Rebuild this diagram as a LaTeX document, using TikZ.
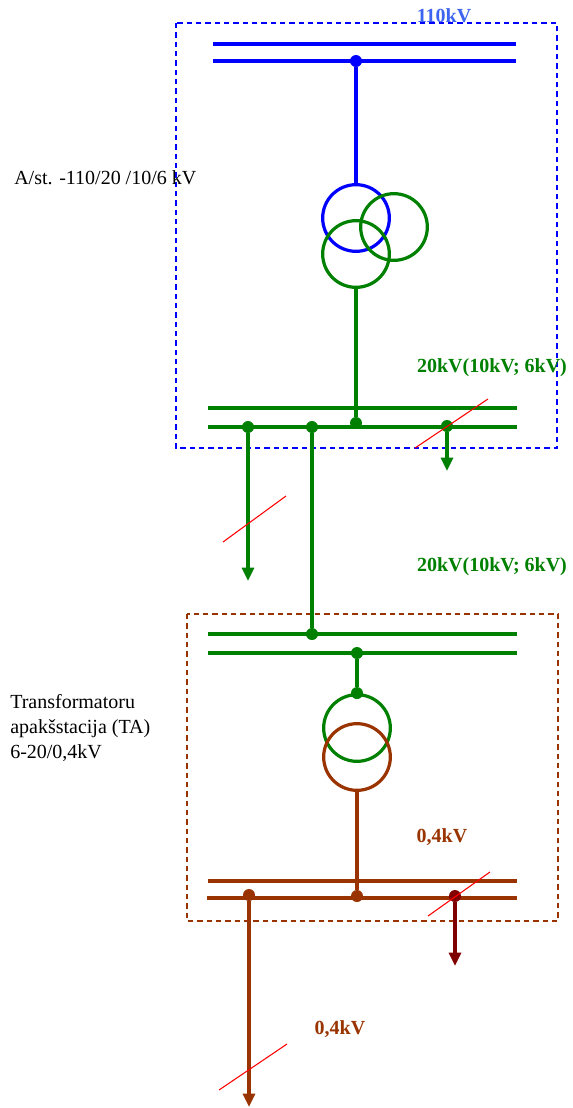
\documentclass[tikz,border=0pt]{standalone}
\usepackage{fontspec}
\setmainfont{Liberation Serif}
\usetikzlibrary{arrows.meta}

\definecolor{hv}{RGB}{0,0,255}
\definecolor{hvtext}{RGB}{60,100,240}
\definecolor{mv}{RGB}{0,128,0}
\definecolor{lv}{RGB}{153,51,0}
\definecolor{lvdark}{RGB}{128,0,0}

\begin{document}
\begin{tikzpicture}[
    x=0.75pt, y=-0.75pt,
    bus/.style={line width=2.6pt},
    wire/.style={line width=2.3pt},
    dot/.style={circle, fill, inner sep=0, minimum size=9pt},
    wind/.style={circle, draw, line width=2.4pt, inner sep=0, minimum size=50pt},
    feed/.style={wire, -{Triangle[length=10pt, width=9pt]}},
    slash/.style={red, line width=0.8pt},
    frame/.style={line width=0.9pt, dash pattern=on 4pt off 3pt},
    lbl/.style={font=\fontsize{15}{18}\selectfont\bfseries},
    txt/.style={font=\fontsize{15}{18.75}\selectfont, align=left, anchor=west, inner sep=0},
  ]
  \useasboundingbox (0,0) rectangle (573,1108);

  % substation frames
  \draw[hv, frame] (176,23) rectangle (557,448);
  \draw[lv, frame] (187,614) rectangle (558,921);

  % 110kV bus
  \draw[hv, bus] (213,44) -- (516,44);
  \draw[hv, bus] (213,61) -- (516,61);
  \node[dot, hv] (hd) at (356,61) {};

  % three winding transformer
  \node[wind, hv] (tH) at (356,218) {};
  \node[wind, mv] (tM1) at (394,227) {};
  \node[wind, mv] (tM2) at (356,254) {};
  \draw[hv, wire] (hd) -- (tH.north);

  % 20kV bus of the substation
  \draw[mv, bus] (208,408) -- (517,408);
  \draw[mv, bus] (208,427) -- (517,427);
  \node[dot, mv] (md1) at (248,427) {};
  \node[dot, mv] (md2) at (312,427) {};
  \node[dot, mv] (md3) at (356,423) {};
  \node[dot, mv] (md4) at (447,426) {};
  \draw[mv, wire] (tM2.south) -- (md3);

  % 20kV feeders
  \coordinate (f1) at (248,581);
  \coordinate (f4) at (447,471);
  \draw[mv, feed] (md1) -- (f1);
  \draw[mv, feed] (md4) -- (f4);
  \draw[slash] (415,448) -- (488,399);
  \draw[slash] (223,542) -- (286,496);

  % 20kV bus of the TA
  \draw[mv, bus] (208,634) -- (517,634);
  \draw[mv, bus] (208,653) -- (517,653);
  \node[dot, mv] (ld1) at (312,634) {};
  \node[dot, mv] (ld2) at (357,653) {};
  \draw[mv, wire] (md2) -- (ld1);

  % two winding transformer
  \node[wind, mv] (tL1) at (357,728) {};
  \node[wind, lv] (tL2) at (357,757) {};
  \node[dot, mv] (ld3) at (tL1.north) {};
  \draw[mv, wire] (ld2) -- (ld3);

  % 0,4kV bus
  \draw[lv, bus] (208,881) -- (517,881);
  \draw[lv, bus] (207,898) -- (517,898);
  \node[dot, lv] (bd1) at (249,895) {};
  \node[dot, lv] (bd2) at (357,896) {};
  \node[dot, lvdark] (bd3) at (455,896) {};
  \draw[lv, wire] (tL2.south) -- (bd2);

  % 0,4kV feeders
  \coordinate (g1) at (249,1107);
  \coordinate (g3) at (455,966);
  \draw[lv, feed] (bd1) -- (g1);
  \draw[lvdark, feed] (bd3) -- (g3);
  \draw[slash] (428,916) -- (490,872);
  \draw[slash] (219,1090) -- (287,1044);

  % labels
  \node[lbl, text=hvtext] (l110) at (444,16) {110kV};
  \node[lbl, text=mv] (l20a) at (492,368) {20kV(10kV; 6kV)};
  \node[lbl, text=mv] (l20b) at (492,567) {20kV(10kV; 6kV)};
  \node[lbl, text=lv] (l04a) at (442,837) {0,4kV};
  \node[lbl, text=lv] (l04b) at (340,1029) {0,4kV};
  \node[txt] (ast) at (14,178) {A/st. -110/20 /10/6 kV};
  \node[txt] (ta) at (10,728) {Transformatoru\\apakšstacija (TA)\\6-20/0,4kV};

\end{tikzpicture}
\end{document}
